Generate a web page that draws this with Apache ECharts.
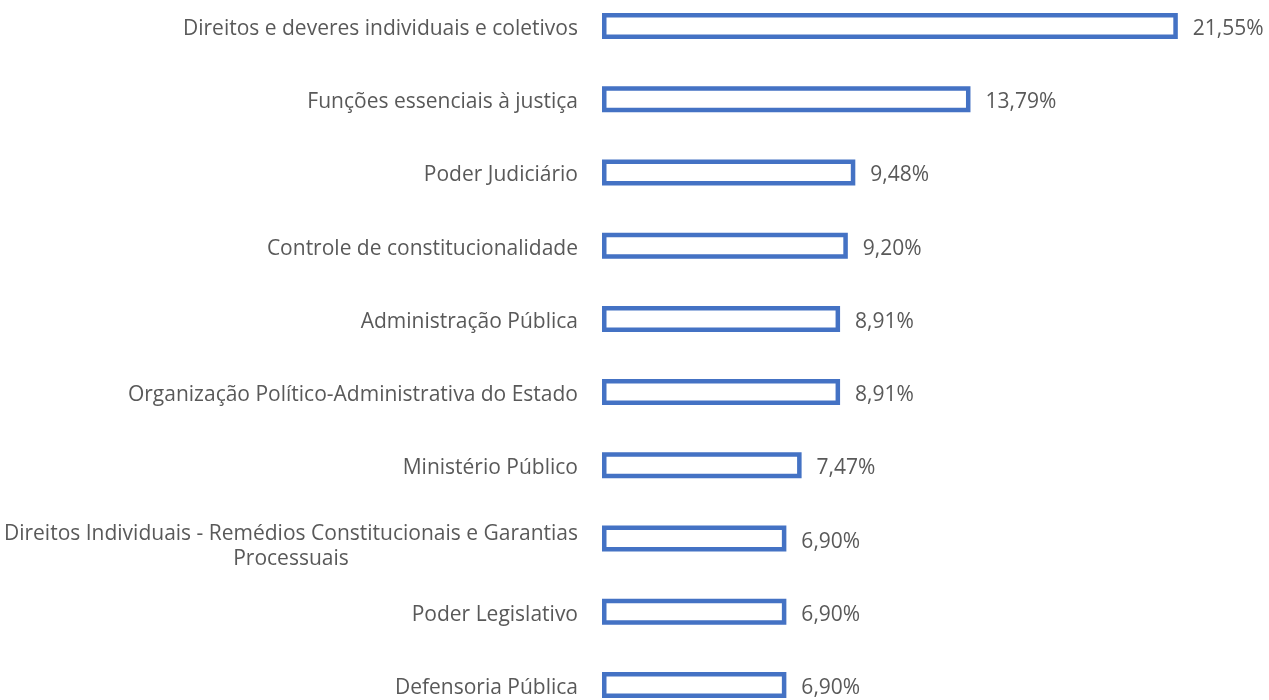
<!DOCTYPE html>
<html>
<head>
<meta charset="utf-8">
<script src="https://cdn.jsdelivr.net/npm/echarts@6/dist/echarts.min.js"></script>
<style>
  html, body { margin: 0; padding: 0; background: #fff; }
  #main { width: 1269px; height: 700px; }
</style>
</head>
<body>
<div id="main"></div>
<script>
// categorias (de cima para baixo)
var categorias = [
  "Direitos e deveres individuais e coletivos",
  "Funções essenciais à justiça",
  "Poder Judiciário",
  "Controle de constitucionalidade",
  "Administração Pública",
  "Organização Político-Administrativa do Estado",
  "Ministério Público",
  "Direitos Individuais - Remédios Constitucionais e Garantias\nProcessuais",
  "Poder Legislativo",
  "Defensoria Pública"
];
// percentuais
var valores = [21.55, 13.79, 9.48, 9.20, 8.91, 8.91, 7.47, 6.90, 6.90, 6.90];

var FONTE = "'Open Sans', sans-serif";
var CINZA = "#595959";
var TAM = 21;

// rótulo de duas linhas desce um pouco mais
var eixoDados = categorias.map(function (c) {
  if (c.indexOf("\n") >= 0) {
    return { value: c, textStyle: { padding: [16, 0, 0, 0] } };
  }
  return c;
});

var myChart = echarts.init(document.getElementById("main"));
myChart.setOption({
  animation: false,
  grid: {
    left: 602, right: -1, top: -10.6, height: 732.2,
    containLabel: false, outerBoundsMode: "none"
  },
  xAxis: {
    type: "value",
    min: 0,
    max: 25,
    show: false
  },
  yAxis: {
    type: "category",
    data: eixoDados,
    inverse: true,
    axisLine: { show: false },
    axisTick: { show: false },
    splitLine: { show: false },
    axisLabel: {
      margin: 24,
      padding: [6, 0, 0, 0],
      color: CINZA,
      fontFamily: FONTE,
      fontSize: TAM,
      lineHeight: 25,
      formatter: function (v) {
        if (v.indexOf("\n") >= 0) {
          return v.split("\n").map(function (l) { return "{c|" + l + "}"; }).join("\n");
        }
        return v;
      },
      rich: {
        c: { align: "center", color: CINZA, fontFamily: FONTE, fontSize: TAM, lineHeight: 25 }
      }
    }
  },
  series: [
    {
      type: "bar",
      data: valores,
      barWidth: 26,
      itemStyle: {
        color: "#ffffff",
        borderColor: "#4472C4",
        borderWidth: 4.5
      },
      label: {
        show: true,
        position: "right",
        distance: 15,
        offset: [0, 3],
        color: CINZA,
        fontFamily: FONTE,
        fontSize: TAM,
        formatter: function (p) {
          return p.value.toFixed(2).replace(".", ",") + "%";
        }
      }
    }
  ]
});
</script>
</body>
</html>
